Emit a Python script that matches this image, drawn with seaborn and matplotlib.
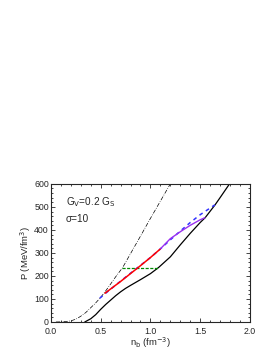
import numpy as np
import pandas as pd
import seaborn as sns
import matplotlib.pyplot as plt
from matplotlib.ticker import MultipleLocator, FormatStrFormatter

# Datos
nb_dashdot = [0.05, 0.1, 0.15, 0.2, 0.25, 0.3, 0.35, 0.4, 0.45, 0.5, 0.55, 0.6, 0.65,
              0.72, 0.8, 0.9, 1.0, 1.1, 1.2, 1.23]
p_dashdot = [0, 0.5, 2, 5, 12, 25, 41, 62, 83, 107, 135, 165, 196,
             236, 297, 373, 450, 525, 600, 622]

nb_solid = [0.34, 0.4, 0.45, 0.5, 0.55, 0.6, 0.65, 0.7, 0.75, 0.8, 0.9, 1.0, 1.08,
            1.2, 1.3, 1.4, 1.5, 1.55, 1.65, 1.7, 1.8, 1.83]
p_solid = [0, 14, 32, 55, 76, 95, 114, 131, 146, 159, 184, 210, 236,
           283, 335, 385, 432, 453, 509, 540, 603, 622]

nb_green = [0.717, 1.078]
p_green = [236, 236]

nb_red = [0.543, 0.7, 0.878, 1.0, 1.096]
p_red = [125, 176, 237, 280, 316]

nb_purple = [1.096, 1.2, 1.3, 1.4, 1.5, 1.548]
p_purple = [316, 362, 392, 420, 444, 453]

nb_blue = [0.49, 0.55, 0.65, 0.8, 1.0, 1.096, 1.2, 1.3, 1.4, 1.5, 1.648]
p_blue = [103, 125, 160, 212, 280, 316, 357, 395, 432, 466, 509]

sns.set_style("ticks")
plt.rcParams['font.family'] = ['Liberation Sans', 'DejaVu Sans']
plt.rcParams['xtick.direction'] = 'in'
plt.rcParams['ytick.direction'] = 'in'

fig = plt.figure(figsize=(2.74, 3.55), dpi=100)
ax = fig.add_axes([0.186, 0.093, 0.726, 0.389])

sns.lineplot(x=nb_dashdot, y=p_dashdot, ax=ax, color='black', lw=0.5,
             linestyle=(0, (6, 2, 1, 2)), sort=False)
sns.lineplot(x=nb_solid, y=p_solid, ax=ax, color='black', lw=0.9, sort=False)
sns.lineplot(x=nb_green, y=p_green, ax=ax, color='#008800', lw=0.9,
             linestyle=(0, (2.5, 1.2)), sort=False)
sns.lineplot(x=nb_blue, y=p_blue, ax=ax, color='#3333ff', lw=1.1,
             linestyle=(0, (2.5, 2.5)), sort=False)
sns.lineplot(x=nb_purple, y=p_purple, ax=ax, color='#9a30f0', lw=1.0, sort=False)
sns.lineplot(x=nb_red, y=p_red, ax=ax, color='#ff0000', lw=1.1, sort=False)

ax.set_xlim(0, 2.0)
ax.set_ylim(0, 600)
ax.xaxis.set_major_locator(MultipleLocator(0.5))
ax.xaxis.set_minor_locator(MultipleLocator(0.1))
ax.xaxis.set_major_formatter(FormatStrFormatter('%.1f'))
ax.yaxis.set_major_locator(MultipleLocator(100))
ax.yaxis.set_minor_locator(MultipleLocator(20))
ax.tick_params(which='both', top=True, right=True, width=0.6, labelsize=6.3)
ax.tick_params(axis='x', pad=3.5)
ax.tick_params(axis='y', pad=1.5)
ax.tick_params(which='major', length=3)
ax.tick_params(which='minor', length=1.5)
for s in ax.spines.values():
    s.set_linewidth(0.8)

ax.set_xlabel(r'n$_\mathrm{b}$ (fm$^{-3}$)', fontsize=6.8, labelpad=0)
ax.set_ylabel(r'P (MeV/fm$^3$)', fontsize=6.8, labelpad=1)

ax.text(0.075, 0.87, r'G$_\mathrm{V}$=0.2 G$_\mathrm{S}$', transform=ax.transAxes,
        fontsize=7.2, va='center', ha='left')
ax.text(0.075, 0.745, 'σ=10', transform=ax.transAxes,
        fontsize=7.2, va='center', ha='left')

plt.savefig('out.png', dpi=100)
plt.close()
